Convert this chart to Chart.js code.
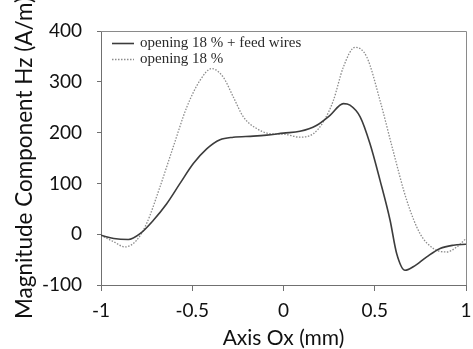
<!DOCTYPE html>
<html>
<head>
<meta charset="utf-8">
<script src="https://cdn.jsdelivr.net/npm/chart.js@4/dist/chart.umd.min.js"></script>
<style>
    body { margin: 0; background: #fff; }
    canvas { display: block; }
</style>
</head>
<body>
<canvas id="hz-chart" width="473" height="349"></canvas>
<script>
'use strict';

// Series labels:
var seriesLabels = ['opening 18 % + feed wires', 'opening 18 %'];

// Solid curve (opening 18 % + feed wires):
var xFeed = [-1, -0.93, -0.85, -0.786, -0.713, -0.64, -0.567, -0.494, -0.421, -0.348, -0.275,
    -0.165, -0.092, 0, 0.09, 0.18, 0.255, 0.328, 0.364, 0.42, 0.474, 0.529, 0.584, 0.62,
    0.666, 0.711, 0.785, 0.858, 0.931, 1];
var yFeed = [-2, -8.5, -10.5, 1, 27.5, 60, 100, 139, 168, 186, 191,
    193, 195, 199, 202.5, 214, 234, 257, 254, 231, 178, 106, 27.5, -38,
    -71, -64, -44.5, -28, -21.6, -19.7];

// Dotted curve (opening 18 %):
var xOpen = [-1, -0.93, -0.868, -0.805, -0.75, -0.677, -0.604, -0.53, -0.457, -0.394, -0.33,
    -0.275, -0.22, -0.147, -0.074, 0, 0.09, 0.164, 0.218, 0.273, 0.328, 0.392, 0.456,
    0.529, 0.6, 0.675, 0.748, 0.821, 0.894, 0.95, 1];
var yOpen = [-2, -15, -25, -12, 21, 93, 172, 250, 303, 326, 309,
    270, 231, 208, 198, 197, 191, 198, 221, 263, 329, 368, 349,
    263, 165, 67, 1.3, -28, -35, -25, -8.5];

// Tick labels:
var xTicks = [-1, -0.5, 0, 0.5, 1];
var xTickLabels = ['-1', '-0.5', '0', '0.5', '1'];
var yTicks = [-100, 0, 100, 200, 300, 400];

function toPoints(xs, ys) {
    return xs.map(function (x, i) {
        return { x: x, y: ys[i] };
    });
}

// Frame round the plot area plus the legend in its top left corner:
var frameAndLegend = {
    id: 'frameAndLegend',
    afterDraw: function (chart) {
        var ctx = chart.ctx;
        var area = chart.chartArea;
        ctx.save();
        ctx.strokeStyle = '#8a8a8a';
        ctx.lineWidth = 1;
        ctx.beginPath();
        ctx.moveTo(area.left, area.top + 0.5);
        ctx.lineTo(area.right + 0.5, area.top + 0.5);
        ctx.lineTo(area.right + 0.5, area.bottom);
        ctx.stroke();

        ctx.font = '15px "Liberation Serif", "Times New Roman", serif';
        ctx.textBaseline = 'middle';
        ctx.fillStyle = '#2a2a2a';
        chart.data.datasets.forEach(function (ds, i) {
            var y = area.top + 12 + i * 16;
            ctx.strokeStyle = ds.borderColor;
            ctx.lineWidth = ds.borderWidth;
            ctx.setLineDash(ds.borderDash || []);
            ctx.beginPath();
            ctx.moveTo(area.left + 11, y + 0.5);
            ctx.lineTo(area.left + 33, y + 0.5);
            ctx.stroke();
            ctx.setLineDash([]);
            ctx.fillText(ds.label, area.left + 39, y);
        });
        ctx.restore();
    }
};

var context = document.getElementById('hz-chart').getContext('2d');
var chart = new Chart(context, {
    type: 'line',
    data: {
        datasets: [{
            label: seriesLabels[0],
            data: toPoints(xFeed, yFeed),
            borderColor: '#3c3c3c',
            borderWidth: 1.6,
            pointRadius: 0,
            fill: false,
            cubicInterpolationMode: 'monotone'
        }, {
            label: seriesLabels[1],
            data: toPoints(xOpen, yOpen),
            borderColor: '#8c8c8c',
            borderWidth: 1.3,
            borderDash: [1.5, 1.5],
            pointRadius: 0,
            fill: false,
            cubicInterpolationMode: 'monotone'
        }]
    },
    options: {
        responsive: false,
        animation: false,
        layout: {
            padding: { left: 0, top: 31, right: 7, bottom: 0 }
        },
        plugins: {
            legend: { display: false },
            tooltip: { enabled: false }
        },
        scales: {
            x: {
                type: 'linear',
                min: -1,
                max: 1,
                afterBuildTicks: function (scale) {
                    scale.ticks = xTicks.map(function (v) { return { value: v }; });
                },
                afterFit: function (scale) {
                    scale.height = 64;
                    scale.paddingLeft = 0;
                    scale.paddingRight = 0;
                },
                grid: {
                    drawOnChartArea: false,
                    drawTicks: true,
                    tickLength: 6,
                    color: '#707070'
                },
                border: { display: true, color: '#707070', width: 1 },
                ticks: {
                    padding: 8,
                    color: '#111',
                    font: { family: 'Lato', size: 19 },
                    maxRotation: 0,
                    callback: function (value, index) {
                        return xTickLabels[index];
                    }
                },
                title: {
                    display: true,
                    text: 'Axis Ox (mm)',
                    color: '#111',
                    font: { family: 'Lato', size: 21 },
                    padding: { top: 0, bottom: -2 }
                }
            },
            y: {
                min: -100,
                max: 400,
                afterBuildTicks: function (scale) {
                    scale.ticks = yTicks.map(function (v) { return { value: v }; });
                },
                afterFit: function (scale) {
                    scale.width = 101;
                    scale.paddingTop = 0;
                    scale.paddingBottom = 0;
                },
                grid: {
                    drawOnChartArea: false,
                    drawTicks: true,
                    tickLength: 4,
                    color: '#707070'
                },
                border: { display: true, color: '#707070', width: 1 },
                ticks: {
                    padding: 15,
                    color: '#111',
                    font: { family: 'Lato', size: 19 }
                },
                title: {
                    display: true,
                    text: 'Magnitude Component Hz (A/m)',
                    color: '#111',
                    font: { family: 'Lato', size: 22.5 },
                    padding: { top: 11, bottom: 0 }
                }
            }
        }
    },
    plugins: [frameAndLegend]
});
</script>
</body>
</html>
